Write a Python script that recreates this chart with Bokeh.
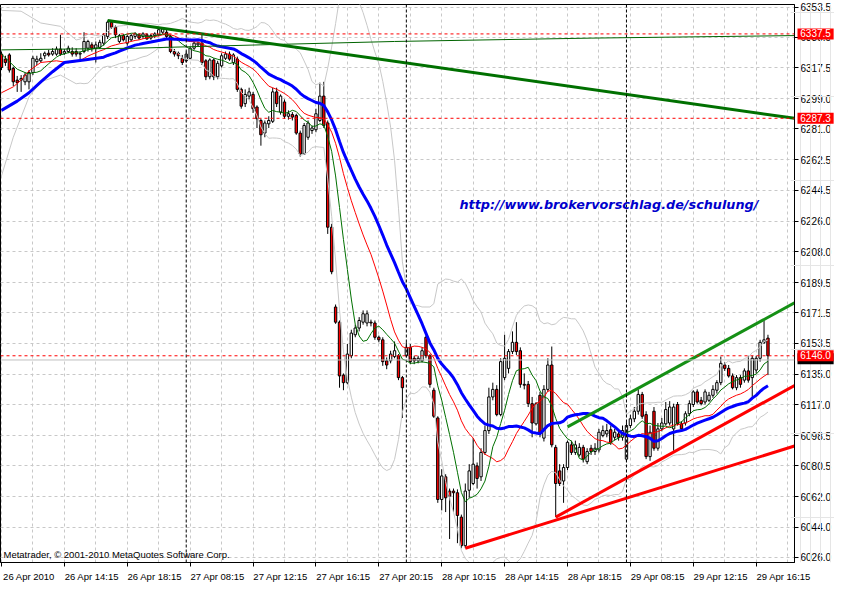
import pandas as pd
from bokeh.plotting import figure
from bokeh.layouts import row
from bokeh.models import FixedTicker, PrintfTickFormatter, Span, Label, ColumnDataSource
from bokeh.embed import file_html
from bokeh.resources import INLINE

# ---------------- data (15-minute DAX bars, 26-29 Apr 2010) ----------------
opens = [
    6325.5, 6322.5, 6325, 6317, 6310, 6310, 6309, 6309, 6314.5, 6321,
    6321.5, 6324.5, 6326, 6325.5, 6325.5, 6328.5, 6326, 6327, 6327, 6327,
    6325.5, 6327, 6329, 6331, 6329, 6329.5, 6332, 6336, 6344.5, 6341.5,
    6333, 6336.5, 6332, 6334, 6336, 6337, 6336, 6337, 6335, 6336.5,
    6337, 6338.5, 6338.5, 6336, 6327, 6326, 6323, 6321.5, 6323, 6329,
    6331, 6332, 6321.5, 6312, 6322, 6312, 6318.5, 6323, 6325.5, 6320.5,
    6322.5, 6304.5, 6296, 6300.5, 6301.5, 6294, 6286, 6278.5, 6284, 6285.5,
    6303, 6291, 6297, 6288.5, 6289.5, 6289, 6278.5, 6266, 6276, 6280,
    6280.5, 6286, 6300.5, 6284.5, 6222.5, 6175, 6166, 6134.5, 6130, 6146,
    6158.5, 6162.5, 6166, 6165.5, 6166, 6165.5, 6157, 6155.5, 6143, 6143,
    6145.5, 6146, 6133, 6146, 6151, 6144.5, 6143, 6143, 6157, 6146,
    6125.5, 6109, 6060.5, 6074, 6065.5, 6065.5, 6064.5, 6050, 6033, 6066,
    6070, 6080.5, 6074, 6088.5, 6101.5, 6121.5, 6126, 6111, 6133, 6138.5,
    6148.5, 6154, 6149, 6129, 6129, 6117.5, 6105.5, 6122.5, 6097, 6126,
    6140.5, 6091.5, 6077.5, 6071.5, 6079.5, 6093, 6088.5, 6087, 6091.5, 6083,
    6091, 6089, 6090, 6098.5, 6099.5, 6102, 6097.5, 6099.5, 6097.5, 6084.5,
    6104.5, 6108.5, 6113, 6123, 6111, 6086, 6113, 6091, 6102.5, 6105.5,
    6106, 6102.5, 6117, 6105.5, 6106, 6111.5, 6117, 6124.5, 6119.5, 6118.5,
    6119.5, 6122.5, 6125.5, 6130, 6140.5, 6138.5, 6134, 6127, 6133, 6131.5,
    6137, 6133, 6137.5, 6144.5, 6154, 6156.5,
]
highs = [
    6327, 6324.5, 6326, 6318, 6312.5, 6313, 6314.5, 6316, 6324.5, 6324.5,
    6326, 6327, 6328, 6329, 6330, 6337, 6328.5, 6330.5, 6329.5, 6329,
    6327, 6338.5, 6334, 6332.5, 6333, 6334, 6338, 6345.5, 6345.5, 6342.5,
    6337.5, 6337.5, 6337, 6337.5, 6338.5, 6338, 6338.5, 6338, 6337.5, 6338.5,
    6341, 6341.5, 6340, 6337, 6328.5, 6327, 6325, 6327, 6330, 6333,
    6333, 6337, 6322.5, 6323, 6323, 6321.5, 6326, 6327, 6327, 6326,
    6324, 6305.5, 6304.5, 6305.5, 6303, 6295, 6287, 6286, 6288.5, 6305.5,
    6305.5, 6301.5, 6298.5, 6292, 6291, 6290, 6280, 6284.5, 6286, 6283,
    6293, 6308.5, 6309, 6286, 6224.5, 6176.5, 6167, 6135.5, 6153, 6161.5,
    6164.5, 6169, 6173, 6173, 6167.5, 6167, 6158, 6157, 6145, 6149,
    6154.5, 6147, 6134, 6154, 6153, 6146, 6146, 6151, 6158, 6147,
    6127, 6110, 6078.5, 6075.5, 6067, 6067, 6066.5, 6051.5, 6070, 6081.5,
    6097, 6082.5, 6091, 6104.5, 6127, 6130, 6128.5, 6144.5, 6158.5, 6150,
    6160.5, 6166, 6151, 6135.5, 6131, 6121.5, 6118.5, 6124.5, 6128.5, 6144.5,
    6151.5, 6093, 6081.5, 6081.5, 6095.5, 6095.5, 6095.5, 6094, 6093, 6091,
    6093, 6094, 6102.5, 6104.5, 6105.5, 6104.5, 6102.5, 6101.5, 6104.5, 6106.5,
    6111, 6115.5, 6126, 6124.5, 6113, 6104.5, 6115.5, 6106, 6109, 6118.5,
    6119, 6117.5, 6118.5, 6107, 6113, 6119.5, 6125.5, 6126, 6121.5, 6126,
    6124.5, 6128.5, 6131.5, 6145.5, 6142, 6140.5, 6135.5, 6134.5, 6134.5, 6138.5,
    6146, 6146, 6146, 6155.5, 6167, 6158.5,
]
lows = [
    6316, 6318.5, 6314.5, 6306.5, 6303, 6303, 6307, 6304.5, 6313, 6319,
    6320.5, 6322.5, 6324, 6324.5, 6324.5, 6324.5, 6325, 6326, 6324, 6324,
    6322.5, 6326, 6327, 6327, 6320.5, 6328.5, 6330.5, 6334.5, 6340.5, 6335,
    6332, 6333, 6330.5, 6333, 6334.5, 6334, 6334.5, 6334, 6334, 6335,
    6336, 6337.5, 6334.5, 6326, 6324, 6322.5, 6319, 6320.5, 6322.5, 6328,
    6330, 6319, 6310, 6310.5, 6310, 6310.5, 6317.5, 6322, 6321.5, 6319,
    6303, 6293, 6294, 6298.5, 6290.5, 6281.5, 6271, 6276, 6281.5, 6284.5,
    6294, 6289.5, 6287, 6286.5, 6286, 6277.5, 6264.5, 6265.5, 6274.5, 6278,
    6279, 6285, 6281.5, 6218.5, 6194.5, 6165, 6127, 6125.5, 6129, 6144.5,
    6157, 6160.5, 6164.5, 6163.5, 6163.5, 6155.5, 6154, 6140, 6138, 6141.5,
    6144.5, 6131.5, 6109, 6145, 6141, 6141, 6141.5, 6142, 6144.5, 6127,
    6109, 6058.5, 6054, 6053, 6037, 6053, 6034.5, 6031.5, 6031.5, 6061.5,
    6069, 6067, 6071.5, 6087, 6099.5, 6119.5, 6110, 6110, 6131.5, 6135.5,
    6147, 6146.5, 6127, 6126, 6115.5, 6097.5, 6104.5, 6097.5, 6095, 6124.5,
    6091.5, 6050, 6068.5, 6058.5, 6078, 6087, 6087, 6086, 6082.5, 6081.5,
    6087, 6087, 6088.5, 6097.5, 6097.5, 6093, 6095.5, 6095.5, 6095.5, 6083,
    6103, 6106.5, 6111, 6108.5, 6084.5, 6083.5, 6089.5, 6089.5, 6101, 6104.5,
    6104.5, 6089.5, 6104.5, 6101.5, 6104.5, 6110, 6115.5, 6117.5, 6116.5, 6117,
    6118.5, 6121, 6123.5, 6128.5, 6137, 6133, 6126, 6125.5, 6127, 6130,
    6130, 6121.5, 6135.5, 6142.5, 6153, 6134.5,
]
closes = [
    6317.5, 6320.5, 6316, 6309, 6308.5, 6311, 6313, 6314.5, 6323, 6322.5,
    6323, 6326, 6325, 6327, 6328.5, 6325.5, 6327, 6329, 6325.5, 6325.5,
    6326, 6333, 6333, 6329, 6331, 6332.5, 6337, 6344.5, 6341.5, 6337,
    6336.5, 6334, 6336, 6336.5, 6337.5, 6335, 6337.5, 6334.5, 6336.5, 6337.5,
    6340, 6340.5, 6336, 6327, 6325.5, 6324.5, 6320.5, 6325.5, 6329, 6332,
    6332, 6320.5, 6312, 6322, 6312, 6320, 6324.5, 6325.5, 6322.5, 6325,
    6304.5, 6294.5, 6301.5, 6303, 6293, 6287, 6277.5, 6284.5, 6286, 6303,
    6296, 6300.5, 6288.5, 6290, 6288, 6278.5, 6266, 6283, 6284.5, 6281.5,
    6290, 6300.5, 6283, 6222.5, 6196, 6166, 6134, 6130, 6147, 6159.5,
    6162.5, 6167, 6171, 6171, 6165.5, 6157, 6155.5, 6142.5, 6140.5, 6147,
    6149, 6133, 6127, 6151, 6142.5, 6143, 6144.5, 6149, 6146, 6129,
    6110, 6060.5, 6074.5, 6061.5, 6062.5, 6064.5, 6051, 6033, 6065.5, 6077.5,
    6081.5, 6073, 6088.5, 6101.5, 6121.5, 6126, 6111, 6142.5, 6144.5, 6148.5,
    6154, 6148.5, 6129, 6128.5, 6117.5, 6106, 6117.5, 6099.5, 6126, 6140.5,
    6093, 6070, 6070, 6079.5, 6094.5, 6088.5, 6093, 6091.5, 6084.5, 6089,
    6089, 6091, 6100.5, 6101.5, 6101.5, 6094.5, 6100.5, 6097.5, 6101.5, 6104.5,
    6108.5, 6113, 6123, 6110, 6086, 6100.5, 6091, 6102.5, 6106, 6114,
    6115.5, 6115.5, 6105.5, 6102.5, 6111.5, 6117.5, 6124.5, 6118.5, 6117.5, 6124.5,
    6122.5, 6126, 6130, 6141.5, 6138.5, 6134, 6127, 6133, 6129, 6137,
    6131.5, 6144.5, 6144.5, 6154, 6155.5, 6146,
]

time_tick_bars = [0, 16, 32, 48, 64, 80, 96, 112, 128, 144, 160, 176, 192]
time_tick_labels = ["26 Apr 2010", "26 Apr 14:15", "26 Apr 18:15", "27 Apr 08:15",
                    "27 Apr 12:15", "27 Apr 16:15", "27 Apr 20:15", "28 Apr 10:15",
                    "28 Apr 14:15", "28 Apr 18:15", "29 Apr 08:15", "29 Apr 12:15",
                    "29 Apr 16:15"]
day_start_bars = [47, 103, 159]
price_ticks = [6026.0, 6044.0, 6062.0, 6080.5, 6098.5, 6117.0, 6135.0, 6153.5, 6171.5,
               6189.5, 6208.0, 6226.0, 6244.5, 6262.5, 6281.0, 6299.0, 6317.5, 6335.5, 6353.5]

# indicator values at the left edge (history before the first visible bar)
blue_lead_bars = [0, 4, 7, 10, 13, 16, 21]
blue_lead_vals = [6292.0, 6297.5, 6302.5, 6309.0, 6315.0, 6320.5, 6322.0]
red_lead_bars = [0, 3, 5, 7, 10, 14]
red_lead_vals = [6302.5, 6306.0, 6310.0, 6315.5, 6320.5, 6321.5]
green_lead_bars = [0, 2, 4, 6]
green_lead_vals = [6325.5, 6321.0, 6316.5, 6314.5]
bbu_lead_bars = [0, 5, 10, 15]
bbu_lead_vals = [6351.5, 6351.0, 6344.0, 6342.0]
bbl_lead_bars = [0, 3, 7, 10, 15]
bbl_lead_vals = [6253.0, 6276.0, 6300.0, 6309.0, 6313.0]

# long moving average
long_ma_bars = [0, 34, 66, 100, 150, 201.75]
long_ma_vals = [6328.0, 6329.0, 6331.0, 6333.0, 6335.0, 6336.5]

# drawn trend lines (bar, price)
tl_down_bars, tl_down_vals = [27, 201.75], [6345.5, 6287.3]
tl_sup1_bars, tl_sup1_vals = [118, 201.75], [6031.5, 6092.3]
tl_sup2_bars, tl_sup2_vals = [141, 201.75], [6050.0, 6128.3]
tl_chan_bars, tl_chan_vals = [144, 201.75], [6103.7, 6177.5]

level_lines = [6337.5, 6287.3, 6146.0]
ask_level = 6143.5

# ---------------- indicators ----------------
n = len(closes)
bars = list(range(n))
s = pd.Series(closes, dtype=float)
ma_fast = s.rolling(8).mean()
ma_mid = s.rolling(18).mean()
ma_slow = s.rolling(27).mean()
bb_mid = s.rolling(20).mean()
bb_sd = s.rolling(20).std(ddof=0)
bb_up = bb_mid + 2 * bb_sd
bb_lo = bb_mid - 2 * bb_sd


def joined(lead_x, lead_y, series, start):
    return lead_x + bars[start:], lead_y + list(series[start:])


src = ColumnDataSource(dict(
    x=bars, o=opens, h=highs, l=lows, c=closes,
    top=[max(a, b) for a, b in zip(opens, closes)],
    bot=[min(a, b) for a, b in zip(opens, closes)],
    col=["white" if c >= o else "#FF0000" for o, c in zip(opens, closes)],
))

FONT = "Liberation Sans"
FS = "9.5px"
FSY = "10px"
W, H = 834, 584
TOP, BOTTOM, RIGHT = 4, 20, 38

p = figure(width=W, height=H, x_range=(-0.25, 201.75), y_range=(6023.0, 6355.0),
           output_backend="svg", toolbar_location=None, y_axis_location="right",
           min_border_left=0, min_border_top=TOP, min_border_right=RIGHT,
           min_border_bottom=BOTTOM,
           background_fill_color="white", border_fill_color="white",
           outline_line_color="black", outline_line_width=1)

# x axis: tick marks (minor) at the time ticks, labels (major) just right of them
label_pos = [t + 7 for t in time_tick_bars]
xa = p.below[0]
xa.ticker = FixedTicker(ticks=label_pos, minor_ticks=time_tick_bars)
xa.major_label_overrides = {pos: lab for pos, lab in zip(label_pos, time_tick_labels)}
xa.major_tick_out = 0
xa.major_tick_in = 0
xa.minor_tick_out = 4
xa.minor_tick_in = 0
xa.minor_tick_line_color = "black"
xa.major_label_standoff = 4
xa.axis_line_color = "black"
xa.major_label_text_font = FONT
xa.major_label_text_font_size = FS
xa.major_label_text_color = "black"
p.xgrid.ticker = FixedTicker(ticks=time_tick_bars, minor_ticks=[t + 8 for t in time_tick_bars])

ya = p.right[0]
ya.ticker = FixedTicker(ticks=price_ticks)
ya.formatter = PrintfTickFormatter(format="%.1f")
ya.major_tick_out = 4
ya.major_tick_in = 0
ya.minor_tick_out = 0
ya.minor_tick_in = 0
ya.major_label_standoff = 2
ya.axis_line_color = "black"
ya.major_tick_line_color = "black"
ya.major_label_text_font = FONT
ya.major_label_text_font_size = FSY
ya.major_label_text_color = "black"

p.xgrid.grid_line_color = "#C8C8C8"
p.xgrid.grid_line_dash = "3 3"
p.xgrid.minor_grid_line_color = "#C8C8C8"
p.xgrid.minor_grid_line_dash = "3 3"
p.ygrid.grid_line_color = "#C8C8C8"
p.ygrid.grid_line_dash = "3 3"

# period separators
for b in day_start_bars:
    p.add_layout(Span(location=b, dimension="height", line_color="black",
                      line_dash="3 2", line_width=1))

# horizontal levels
p.add_layout(Span(location=ask_level, dimension="width", line_color="#C0C0C0", line_width=1))
for lv in level_lines:
    p.add_layout(Span(location=lv, dimension="width", line_color="#FF0000",
                      line_dash="3 3", line_width=1))

# candles
p.segment(x0="x", y0="h", x1="x", y1="l", source=src, line_color="black", line_width=1)
p.vbar(x="x", width=0.6, top="top", bottom="bot", source=src,
       fill_color="col", line_color="black", line_width=1)

# indicators
bx, by = joined(bbu_lead_bars, bbu_lead_vals, bb_up, 19)
p.line(bx, by, line_color="#C8C8C8", line_width=1)
bx, by = joined(bbl_lead_bars, bbl_lead_vals, bb_lo, 19)
p.line(bx, by, line_color="#C8C8C8", line_width=1)
rx, ry = joined(red_lead_bars, red_lead_vals, ma_mid, 17)
p.line(rx, ry, line_color="#FF0000", line_width=1)
gx, gy = joined(green_lead_bars, green_lead_vals, ma_fast, 7)
p.line(gx, gy, line_color="#007000", line_width=1)
ux, uy = joined(blue_lead_bars, blue_lead_vals, ma_slow, 26)
p.line(ux, uy, line_color="#0000FF", line_width=3)
p.line(long_ma_bars, long_ma_vals, line_color="#006400", line_width=1)

# trend lines
p.line(tl_down_bars, tl_down_vals, line_color="#007000", line_width=3)
p.line(tl_chan_bars, tl_chan_vals, line_color="#159015", line_width=3)
p.line(tl_sup1_bars, tl_sup1_vals, line_color="#FF0000", line_width=3)
p.line(tl_sup2_bars, tl_sup2_vals, line_color="#FF0000", line_width=3)

# texts
p.add_layout(Label(x=116.5, y=6236.0, text="http://www.brokervorschlag.de/schulung/",
                   text_font="DejaVu Sans", text_font_style="bold italic",
                   text_font_size="12.8px", text_color="#0000CC", text_baseline="middle"))
p.add_layout(Label(x=3, y=3, x_units="screen", y_units="screen",
                   text="Metatrader, \u00a9 2001-2010 MetaQuotes Software Corp.",
                   text_font=FONT, text_font_size=FS, text_color="black",
                   text_baseline="bottom"))

# ---- transparent overlay over the price scale for the price tags ----
TAG_W = 44
q = figure(width=TAG_W, height=H, x_range=(0, TAG_W), y_range=p.y_range,
           output_backend="svg", toolbar_location=None,
           x_axis_location=None, y_axis_location=None,
           min_border_left=0, min_border_right=0, min_border_top=TOP,
           min_border_bottom=BOTTOM,
           background_fill_color="white", background_fill_alpha=0.0,
           border_fill_color="white", border_fill_alpha=0.0, outline_line_color=None,
           margin=(0, 0, 0, -TAG_W))
tag_x = TAG_W - RIGHT + 1
q.add_layout(Label(x=tag_x, y=6146.0, y_offset=-3, text="\u00a06146.0\u00a0",
                   text_font=FONT, text_font_size=FSY, text_color="black",
                   background_fill_color="black", text_baseline="middle"))
for lv in level_lines:
    q.add_layout(Label(x=tag_x, y=lv, text="\u00a0%.1f\u00a0" % lv,
                       text_font=FONT, text_font_size=FSY, text_color="white",
                       background_fill_color="#FF0000", text_baseline="middle"))

layout = row(p, q)
open("out.html", "w").write(file_html(layout, INLINE))
